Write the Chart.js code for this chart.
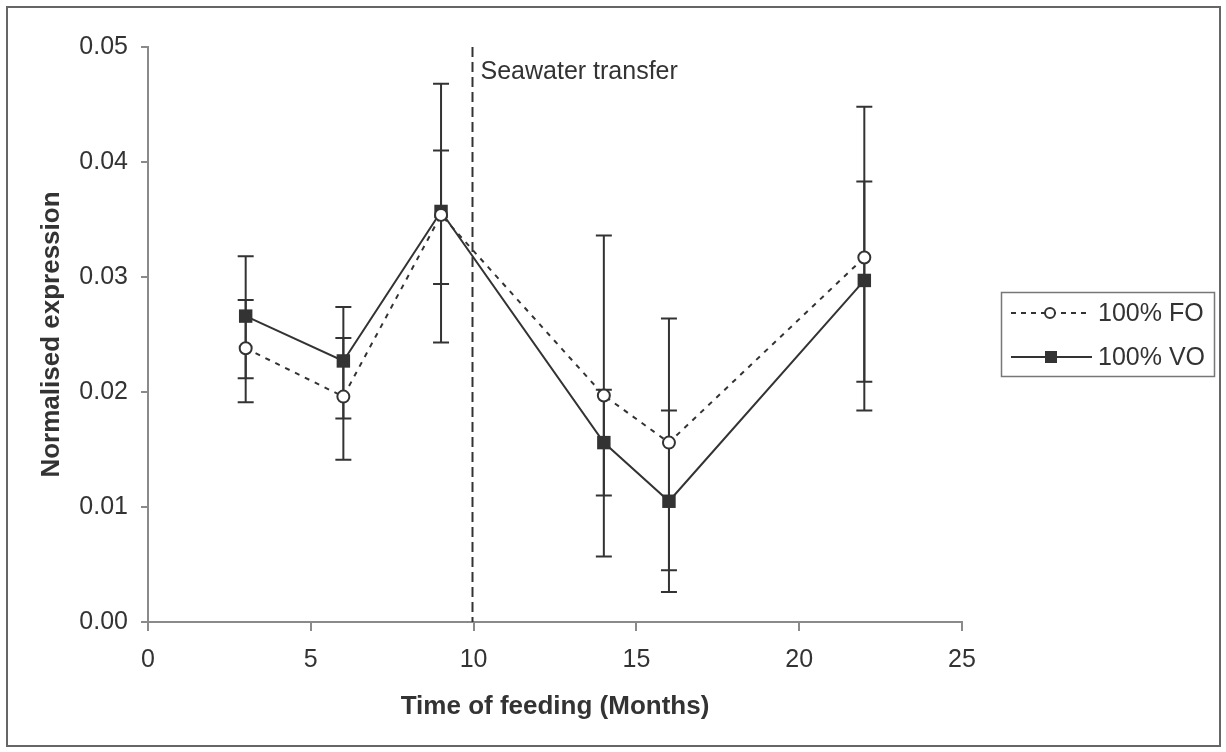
<!DOCTYPE html>
<html>
<head>
<meta charset="utf-8">
<script src="https://cdn.jsdelivr.net/npm/chart.js@4.4.1/dist/chart.umd.min.js"></script>
<style>
  body { margin: 0; background: #fff; }
  #wrap { width: 1226px; height: 752px; }
</style>
</head>
<body>
<div id="wrap"><canvas id="chart" width="1226" height="752"></canvas></div>
<script>
// months of feeding
const months = [3, 6, 9, 14, 16, 22];

// 100% FO
const foMean = [0.0238, 0.0196, 0.0354, 0.0197, 0.0156, 0.0317];
const foLow  = [0.0191, 0.0141, 0.0243, 0.0057, 0.0045, 0.0184];
const foHigh = [0.0280, 0.0247, 0.0468, 0.0336, 0.0264, 0.0448];

// 100% VO
const voMean = [0.0266, 0.0227, 0.0357, 0.0156, 0.0105, 0.0297];
const voLow  = [0.0212, 0.0177, 0.0294, 0.0110, 0.0026, 0.0209];
const voHigh = [0.0318, 0.0274, 0.0410, 0.0202, 0.0184, 0.0383];

const xTicks = [0, 5, 10, 15, 20, 25];
const yTicks = [0, 0.01, 0.02, 0.03, 0.04, 0.05];
const transferMonth = 10;

const ink = '#333333';
const axisGrey = '#8a8a8a';
const font = 'Liberation Sans, Arial, sans-serif';

const toPoints = (ys) => months.map((m, i) => ({ x: m, y: ys[i] }));

// error bars, drawn behind the lines
const errorBars = {
  id: 'errorBars',
  beforeDatasetsDraw(chart) {
    const { ctx, scales: { x, y } } = chart;
    const sets = [[foLow, foHigh], [voLow, voHigh]];
    ctx.save();
    ctx.strokeStyle = ink;
    ctx.lineWidth = 2;
    sets.forEach(([lo, hi]) => {
      months.forEach((m, i) => {
        const px = x.getPixelForValue(m);
        const y1 = y.getPixelForValue(lo[i]);
        const y2 = y.getPixelForValue(hi[i]);
        ctx.beginPath();
        ctx.moveTo(px, y1); ctx.lineTo(px, y2);
        ctx.moveTo(px - 8, y1); ctx.lineTo(px + 8, y1);
        ctx.moveTo(px - 8, y2); ctx.lineTo(px + 8, y2);
        ctx.stroke();
      });
    });
    ctx.restore();
  }
};

// seawater transfer line, legend box and outer frame
const decorations = {
  id: 'decorations',
  afterDraw(chart) {
    const { ctx, chartArea, scales: { x } } = chart;
    ctx.save();

    const tx = Math.round(x.getPixelForValue(transferMonth)) - 1.5;
    ctx.strokeStyle = ink;
    ctx.lineWidth = 2;
    ctx.setLineDash([10, 5]);
    ctx.beginPath();
    ctx.moveTo(tx, chartArea.top);
    ctx.lineTo(tx, chartArea.bottom);
    ctx.stroke();
    ctx.setLineDash([]);

    ctx.fillStyle = ink;
    ctx.font = '25px ' + font;
    ctx.textBaseline = 'middle';
    ctx.textAlign = 'left';
    ctx.fillText('Seawater transfer', tx + 8, 72);

    // legend
    ctx.strokeStyle = '#777';
    ctx.lineWidth = 1.5;
    ctx.strokeRect(1001.5, 292.5, 213, 84);

    ctx.strokeStyle = ink;
    ctx.lineWidth = 2;
    ctx.setLineDash([5, 5]);
    ctx.beginPath();
    ctx.moveTo(1011, 313); ctx.lineTo(1090, 313);
    ctx.stroke();
    ctx.setLineDash([]);
    ctx.fillStyle = '#fff';
    ctx.beginPath();
    ctx.arc(1050, 313, 5, 0, Math.PI * 2);
    ctx.fill(); ctx.stroke();

    ctx.beginPath();
    ctx.moveTo(1011, 357); ctx.lineTo(1092, 357);
    ctx.stroke();
    ctx.fillStyle = ink;
    ctx.fillRect(1045, 351, 12, 12);

    ctx.fillStyle = ink;
    ctx.fillText('100% FO', 1098, 314);
    ctx.fillText('100% VO', 1098, 358);

    // outer frame
    ctx.strokeStyle = '#666';
    ctx.lineWidth = 2;
    ctx.strokeRect(7, 7, 1213, 739);
    ctx.restore();
  }
};

new Chart(document.getElementById('chart'), {
  type: 'line',
  data: {
    datasets: [
      {
        label: '100% FO',
        data: toPoints(foMean),
        borderColor: ink,
        borderWidth: 2,
        borderDash: [5, 6],
        pointStyle: 'circle',
        pointRadius: 6,
        pointBackgroundColor: '#fff',
        pointBorderColor: ink,
        pointBorderWidth: 2,
        tension: 0
      },
      {
        label: '100% VO',
        data: toPoints(voMean),
        borderColor: ink,
        borderWidth: 2,
        pointStyle: 'rect',
        pointRadius: 9.5,
        pointBackgroundColor: ink,
        pointBorderColor: ink,
        pointBorderWidth: 0,
        tension: 0
      }
    ]
  },
  options: {
    responsive: false,
    animation: false,
    layout: { padding: { left: 0, top: 47, right: 264, bottom: 0 } },
    plugins: {
      legend: { display: false },
      tooltip: { enabled: false }
    },
    scales: {
      x: {
        type: 'linear',
        min: 0,
        max: 25,
        afterFit: (s) => { s.height = 130; },
        afterBuildTicks: (s) => { s.ticks = xTicks.map(v => ({ value: v })); },
        border: { display: true, color: axisGrey, width: 2 },
        grid: { drawOnChartArea: false, drawTicks: true, tickLength: 9, color: axisGrey, lineWidth: 2 },
        ticks: { color: ink, font: { family: font, size: 25 }, padding: 14 },
        title: {
          display: true,
          text: 'Time of feeding (Months)',
          color: ink,
          font: { family: font, size: 26, weight: 'bold' },
          padding: { top: 0, bottom: 30 }
        }
      },
      y: {
        min: 0,
        max: 0.05,
        afterFit: (s) => { s.width = 148; },
        afterBuildTicks: (s) => { s.ticks = yTicks.map(v => ({ value: v })); },
        border: { display: true, color: axisGrey, width: 2 },
        grid: { drawOnChartArea: false, drawTicks: true, tickLength: 7, color: axisGrey, lineWidth: 2 },
        ticks: {
          color: ink,
          font: { family: font, size: 25 },
          padding: 13,
          callback: (v) => v.toFixed(2)
        },
        title: {
          display: true,
          text: 'Normalised expression',
          color: ink,
          font: { family: font, size: 26, weight: 'bold' },
          padding: { top: 36, bottom: 0 }
        }
      }
    }
  },
  plugins: [errorBars, decorations]
});
</script>
</body>
</html>
